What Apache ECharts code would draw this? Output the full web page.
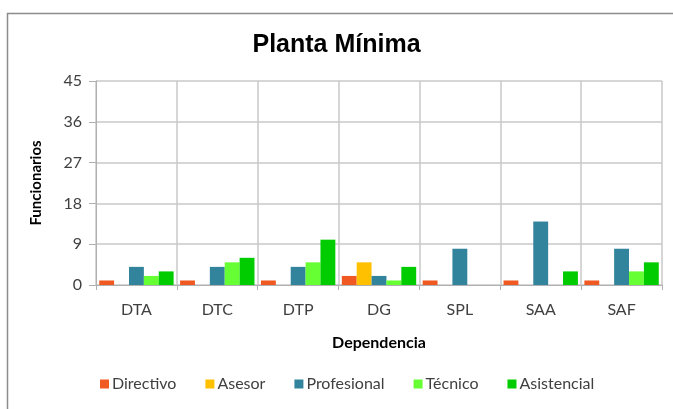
<!DOCTYPE html>
<html>
<head>
<meta charset="utf-8">
<script src="https://cdn.jsdelivr.net/npm/echarts@6/dist/echarts.min.js"></script>
<style>
  html, body { margin: 0; padding: 0; background: #fff; }
  #chart { width: 673px; height: 409px; }
</style>
</head>
<body>
<div id="chart"></div>
<script>
// dependencias
var categorias = ['DTA', 'DTC', 'DTP', 'DG', 'SPL', 'SAA', 'SAF'];

// funcionarios por nivel
var directivo   = [1, 1, 1, 2, 1, 1, 1];
var asesor      = [0, 0, 0, 5, 0, 0, 0];
var profesional = [4, 4, 4, 2, 8, 14, 8];
var tecnico     = [2, 5, 5, 1, 0, 0, 3];
var asistencial = [3, 6, 10, 4, 0, 3, 5];

var niveles = ['Directivo', 'Asesor', 'Profesional', 'Técnico', 'Asistencial'];
var valores = [directivo, asesor, profesional, tecnico, asistencial];
var colores = ['#f05a22', '#ffc000', '#31849b', '#66ff33', '#00cc00'];

var chart = echarts.init(document.getElementById('chart'));

var series = [];
for (var i = 0; i < niveles.length; i++) {
    series.push({
        name: niveles[i],
        type: 'bar',
        barGap: 0,
        barCategoryGap: '8%',
        itemStyle: { color: colores[i] },
        data: valores[i].map(function (v) { return v === 0 ? null : v; })
    });
}

var fuente = 'Lato, "Open Sans", sans-serif';

var option = {
    animation: false,
    backgroundColor: '#fff',
    color: colores,
    title: {
        text: 'Planta Mínima',
        left: 'center',
        top: 28,
        textStyle: {
            fontFamily: '"Liberation Sans", Arial, sans-serif',
            fontSize: 25,
            fontWeight: 'bold',
            color: '#000'
        }
    },
    graphic: [{
        type: 'polyline',
        shape: { points: [[7.5, 420], [7.5, 13.5], [700, 13.5]] },
        style: { stroke: '#8c8c8c', lineWidth: 1.5, fill: null }
    }],
    legend: {
        data: niveles,
        bottom: 12,
        left: 95,
        itemWidth: 9,
        itemHeight: 9,
        itemGap: 29,
        icon: 'rect',
        textStyle: { fontFamily: fuente, fontSize: 16, color: '#404040', padding: [0, 0, 0, -2] }
    },
    grid: {
        left: 96,
        right: 11,
        top: 81,
        bottom: 124
    },
    xAxis: {
        type: 'category',
        data: categorias,
        name: 'Dependencia',
        nameLocation: 'middle',
        nameGap: 50,
        nameTextStyle: { fontFamily: fuente, fontSize: 16, fontWeight: 'bold', color: '#000' },
        axisLine: { lineStyle: { color: '#b0b0b0' } },
        axisTick: { show: true, length: 5, lineStyle: { color: '#b0b0b0' } },
        axisLabel: { fontFamily: fuente, fontSize: 16, color: '#404040', margin: 17 },
        splitLine: { show: true, lineStyle: { color: '#c8c8c8', width: 1.5 } }
    },
    yAxis: {
        type: 'value',
        min: 0,
        max: 45,
        interval: 9,
        name: 'Funcionarios',
        nameLocation: 'middle',
        nameGap: 52,
        nameTextStyle: { fontFamily: fuente, fontSize: 15, fontWeight: 'bold', color: '#000' },
        axisLine: { show: true, lineStyle: { color: '#b0b0b0' } },
        axisTick: { show: true, length: 7, lineStyle: { color: '#b0b0b0' } },
        axisLabel: { fontFamily: fuente, fontSize: 16, color: '#404040', margin: 14 },
        splitLine: { show: true, lineStyle: { color: '#c8c8c8', width: 1.5 } }
    },
    series: series
};

chart.setOption(option);
</script>
</body>
</html>
